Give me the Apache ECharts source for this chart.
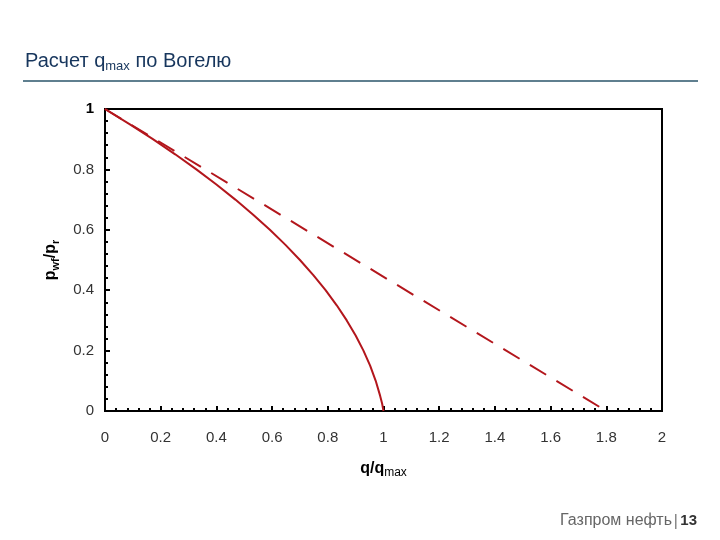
<!DOCTYPE html>
<html>
<head>
<meta charset="utf-8">
<script src="https://cdn.jsdelivr.net/npm/echarts@6/dist/echarts.min.js"></script>
<style>html,body{margin:0;padding:0;background:#fff;}#c{width:720px;height:540px;}</style>
</head>
<body>
<div id="c"></div>
<script>
// Data
const xTicks = [0, 0.2, 0.4, 0.6, 0.8, 1, 1.2, 1.4, 1.6, 1.8, 2];
const yTicks = [0, 0.2, 0.4, 0.6, 0.8, 1];
// Vogel IPR curve: q/qmax (x) vs pwf/pr (y)
const vogelX = [0, 0.088, 0.172, 0.252, 0.328, 0.400, 0.468, 0.532, 0.592, 0.648, 0.700, 0.748, 0.792, 0.832, 0.868, 0.900, 0.928, 0.952, 0.972, 0.988, 0.995, 1.0];
const vogelY = [1, 0.95, 0.90, 0.85, 0.80, 0.75, 0.70, 0.65, 0.60, 0.55, 0.50, 0.45, 0.40, 0.35, 0.30, 0.25, 0.20, 0.15, 0.10, 0.05, 0.025, 0];
// Straight-line (dashed) relation
const lineX = [0, 1.8];
const lineY = [1, 0];

const chart = echarts.init(document.getElementById('c'), null, {renderer: 'canvas'});
const red = '#B3161C';
const fontFam = 'Arial, "Liberation Sans", sans-serif';
const fmt = v => String(+v.toFixed(1));

chart.setOption({
  animation: false,
  backgroundColor: '#fff',
  grid: {left: 105, right: 58, top: 109, bottom: 129, show: true, borderColor: '#000', borderWidth: 2, backgroundColor: 'transparent'},
  xAxis: {
    type: 'value', min: 0, max: 2, interval: 0.2,
    axisLine: {show: true, lineStyle: {color: '#000', width: 2}},
    axisTick: {show: true, inside: true, length: 5, lineStyle: {color: '#000', width: 2}},
    minorTick: {show: true, splitNumber: 5, length: 3, lineStyle: {color: '#000', width: 2}},
    splitLine: {show: false},
    axisLabel: {margin: 19, color: '#333', fontSize: 15, fontFamily: fontFam, formatter: fmt},
    name: '{b|q/q}{s|max}', nameLocation: 'middle', nameGap: 48,
    nameTextStyle: {rich: {
      b: {fontSize: 16, fontWeight: 'bold', color: '#000', fontFamily: fontFam, lineHeight: 20},
      s: {fontSize: 12, color: '#000', fontFamily: fontFam, verticalAlign: 'bottom', lineHeight: 20, padding: [5,0,0,0]}
    }}
  },
  yAxis: {
    type: 'value', min: 0, max: 1, interval: 0.2,
    axisLine: {show: true, lineStyle: {color: '#000', width: 2}},
    axisTick: {show: true, inside: true, length: 5, lineStyle: {color: '#000', width: 2}},
    minorTick: {show: true, splitNumber: 5, length: 3, lineStyle: {color: '#000', width: 2}},
    splitLine: {show: false},
    axisLabel: {margin: 11, color: '#333', fontSize: 15, fontFamily: fontFam,
      formatter: v => v === 1 ? '{b|1}' : fmt(v),
      rich: {b: {fontSize: 15, fontWeight: 'bold', color: '#000', fontFamily: fontFam}}},
    name: '{b|p}{s|wf}{b|/p}{s|r}', nameLocation: 'middle', nameGap: 44, nameRotate: 90,
    nameTextStyle: {rich: {
      b: {fontSize: 16, fontWeight: 'bold', color: '#000', fontFamily: fontFam, lineHeight: 20},
      s: {fontSize: 11, fontWeight: 'bold', color: '#000', fontFamily: fontFam, verticalAlign: 'bottom', lineHeight: 20}
    }}
  },
  series: [
    {type: 'line', data: vogelX.map((x, i) => [x, vogelY[i]]), showSymbol: false, smooth: false,
     lineStyle: {color: red, width: 2}, z: 3},
    {type: 'line', data: lineX.map((x, i) => [x, lineY[i]]), showSymbol: false,
     lineStyle: {color: red, width: 2, type: [19, 12]}, z: 2}
  ],
  graphic: [
    {type: 'text', left: 25, top: 51, style: {
      text: '{t|Расчет q}{s|max}{t| по Вогелю}',
      rich: {
        t: {fontSize: 20, fill: '#17365D', fontFamily: fontFam, lineHeight: 24},
        s: {fontSize: 13, fill: '#17365D', fontFamily: fontFam, verticalAlign: 'bottom', lineHeight: 24, padding: [8,0,0,0]}
      }}},
    {type: 'rect', shape: {x: 23, y: 80, width: 675, height: 2}, style: {fill: '#5F7F8F'}},
    {type: 'text', right: 48, top: 513, style: {text: 'Газпром нефть', fontSize: 16, fill: '#666', fontFamily: fontFam}},
    {type: 'rect', shape: {x: 675, y: 514, width: 1.5, height: 15}, style: {fill: '#888'}},
    {type: 'text', right: 23, top: 513, style: {text: '13', fontSize: 15, fontWeight: 'bold', fill: '#333', fontFamily: fontFam}}
  ]
});
</script>
</body>
</html>
